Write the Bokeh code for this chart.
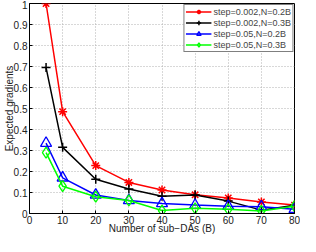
from bokeh.plotting import figure
from bokeh.models import Range1d, FixedTicker, CustomJSTickFormatter
from bokeh.embed import file_html
from bokeh.resources import INLINE

x_vals = [5, 10, 20, 30, 40, 50, 60, 70, 80]
s1 = [1.0, 0.485, 0.228, 0.148, 0.112, 0.089, 0.074, 0.055, 0.040]
s2 = [0.695, 0.315, 0.163, 0.117, 0.082, 0.088, 0.059, 0.016, 0.039]
s3 = [0.335, 0.170, 0.088, 0.062, 0.048, 0.040, 0.035, 0.032, 0.020]
s4 = [0.290, 0.130, 0.080, 0.062, 0.014, 0.025, 0.020, 0.012, 0.035]
labels = ["step=0.002,N=0.2B", "step=0.002,N=0.3B", "step=0.05,N=0.2B", "step=0.05,N=0.3B"]
colors = ["#ff0000", "#000000", "#0000ff", "#00ff00"]
markers = ["asterisk", "cross", "triangle", "diamond"]
x_ticks = [0, 10, 20, 30, 40, 50, 60, 70, 80]
y_ticks = [0, 0.1, 0.2, 0.3, 0.4, 0.5, 0.6, 0.7, 0.8, 0.9, 1.0]
x_title = "Number of sub\u2212DAs (B)"
y_title = "Expected gradients"

FONT = "Liberation Sans"

p = figure(width=300, height=236, output_backend="svg", toolbar_location=None,
           x_range=Range1d(0, 80), y_range=Range1d(0, 1),
           min_border_left=0, min_border_right=6, min_border_top=3, min_border_bottom=0)
p.background_fill_color = "white"
p.border_fill_color = "white"
p.outline_line_color = "black"
p.outline_line_width = 1

for ys, lab, c, m in zip([s1, s2, s3, s4], labels, colors, markers):
    p.line(x_vals, ys, line_color=c, line_width=1.5, legend_label=lab)
    if m in ("triangle", "diamond"):
        p.scatter(x_vals, ys, marker=m, size=11, line_color=c, fill_color=None,
                  line_width=1.3, legend_label=lab)
    else:
        p.scatter(x_vals, ys, marker=m, size=9, line_color=c, line_width=1.5,
                  legend_label=lab)

for ax in (p.xaxis[0], p.yaxis[0]):
    ax.major_label_text_font = FONT
    ax.major_label_text_font_size = "10px"
    ax.major_label_text_color = "#222222"
    ax.major_label_text_line_height = 0.9
    ax.axis_label_text_font = FONT
    ax.axis_label_text_font_size = "10px"
    ax.axis_label_text_font_style = "normal"
    ax.axis_label_text_color = "#222222"
    ax.axis_label_text_line_height = 0.9
    ax.major_tick_in = 3
    ax.major_tick_out = 0
    ax.minor_tick_in = 0
    ax.minor_tick_out = 0
    ax.axis_line_color = "black"
    ax.major_tick_line_color = "black"
    ax.major_label_standoff = 2

p.xaxis.axis_label_standoff = -4
p.yaxis.axis_label_standoff = -4
p.xaxis.ticker = FixedTicker(ticks=x_ticks)
p.yaxis.ticker = FixedTicker(ticks=y_ticks)
p.yaxis.formatter = CustomJSTickFormatter(code="return tick.toFixed(1).replace(/\\.0$/, '');")
p.xaxis.axis_label = x_title
p.yaxis.axis_label = y_title

p.xgrid.grid_line_color = "#b0b0b0"
p.ygrid.grid_line_color = "#b0b0b0"
p.xgrid.grid_line_dash = "1 2"
p.ygrid.grid_line_dash = "1 2"
p.xgrid.grid_line_width = 1
p.ygrid.grid_line_width = 1

lg = p.legend[0]
lg.location = "top_right"
lg.margin = 1
lg.padding = 1
lg.spacing = 0
lg.border_line_color = "black"
lg.border_line_width = 1
lg.background_fill_alpha = 1
lg.label_text_font = FONT
lg.label_text_font_size = "9px"
lg.label_height = 11
lg.glyph_height = 11
lg.glyph_width = 26
lg.label_standoff = 2

open("out.html", "w").write(file_html(p, INLINE))
